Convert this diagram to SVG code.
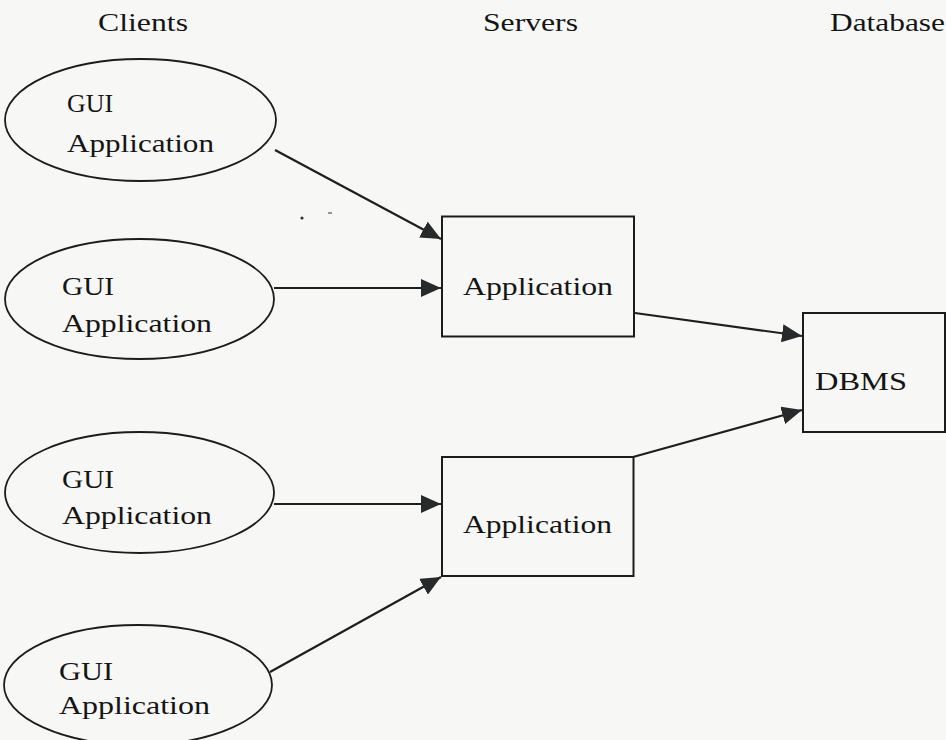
<svg xmlns="http://www.w3.org/2000/svg" width="946" height="740" viewBox="0 0 946 740">
  <style>
    .bg { fill: #f7f8f6; }
    .head { font-family: "Liberation Serif", "Times New Roman", serif; font-size: 25px; fill: #151515; }
    .lbl { font-family: "Liberation Serif", "Times New Roman", serif; font-size: 26px; fill: #151515; }
    .client { fill: none; stroke: #1c1c1c; stroke-width: 1.8; }
    .box { fill: none; stroke: #1c1c1c; stroke-width: 2; }
    .link { fill: none; stroke: #1e1e1e; stroke-width: 2.2; marker-end: url(#arrow); }
    .speck { fill: #333; }
  </style>
  <defs>
    <marker id="arrow" markerUnits="userSpaceOnUse" markerWidth="20" markerHeight="18" refX="20" refY="9" orient="auto">
      <path d="M0,0 L20,9 L0,18 Z" fill="#262a2a"/>
    </marker>
  </defs>

  <rect class="bg" x="0" y="0" width="946" height="740"/>

  <!-- column headings -->
  <g id="headings">
    <text class="head" x="98" y="31" textLength="90" lengthAdjust="spacingAndGlyphs">Clients</text>
    <text class="head" x="483" y="31" textLength="95" lengthAdjust="spacingAndGlyphs">Servers</text>
    <text class="head" x="830" y="31" textLength="115" lengthAdjust="spacingAndGlyphs">Database</text>
  </g>

  <!-- connectors -->
  <g id="connectors">
    <line class="link" x1="275" y1="150" x2="441" y2="239"/>
    <line class="link" x1="274" y1="288" x2="441" y2="288"/>
    <line class="link" x1="274" y1="504" x2="441" y2="504"/>
    <line class="link" x1="270" y1="672" x2="441" y2="577"/>
    <line class="link" x1="635" y1="313" x2="802" y2="336"/>
    <line class="link" x1="633" y1="457" x2="802" y2="410"/>
  </g>

  <!-- client nodes -->
  <g id="client-1">
    <ellipse class="client" cx="140.5" cy="120" rx="135.5" ry="61"/>
    <text class="lbl" x="67" y="112" textLength="46" lengthAdjust="spacingAndGlyphs">GUI</text>
    <text class="lbl" x="67" y="152" textLength="147" lengthAdjust="spacingAndGlyphs">Application</text>
  </g>
  <g id="client-2">
    <ellipse class="client" cx="139.5" cy="299" rx="134.5" ry="60"/>
    <text class="lbl" x="62" y="295" textLength="52" lengthAdjust="spacingAndGlyphs">GUI</text>
    <text class="lbl" x="62" y="332" textLength="150" lengthAdjust="spacingAndGlyphs">Application</text>
  </g>
  <g id="client-3">
    <ellipse class="client" cx="139.5" cy="492.5" rx="134.5" ry="60.5"/>
    <text class="lbl" x="62" y="488" textLength="52" lengthAdjust="spacingAndGlyphs">GUI</text>
    <text class="lbl" x="62" y="524" textLength="150" lengthAdjust="spacingAndGlyphs">Application</text>
  </g>
  <g id="client-4">
    <ellipse class="client" cx="138" cy="685" rx="134" ry="60"/>
    <text class="lbl" x="59" y="680" textLength="54" lengthAdjust="spacingAndGlyphs">GUI</text>
    <text class="lbl" x="59" y="714" textLength="151" lengthAdjust="spacingAndGlyphs">Application</text>
  </g>

  <!-- server nodes -->
  <g id="server-1">
    <rect class="box" x="442" y="216.5" width="192" height="120"/>
    <text class="lbl" x="463" y="295" textLength="150" lengthAdjust="spacingAndGlyphs">Application</text>
  </g>
  <g id="server-2">
    <rect class="box" x="442" y="457" width="191.5" height="119"/>
    <text class="lbl" x="463" y="533" textLength="149" lengthAdjust="spacingAndGlyphs">Application</text>
  </g>

  <!-- database node -->
  <g id="dbms">
    <rect class="box" x="803" y="313" width="142" height="119"/>
    <text class="lbl" x="815" y="390" textLength="92" lengthAdjust="spacingAndGlyphs">DBMS</text>
  </g>

  <!-- stray ink specks -->
  <g id="specks">
    <circle class="speck" cx="302" cy="218" r="1.6"/>
    <line x1="328" y1="213" x2="332" y2="213" stroke="#555" stroke-width="1.2"/>
  </g>
</svg>
